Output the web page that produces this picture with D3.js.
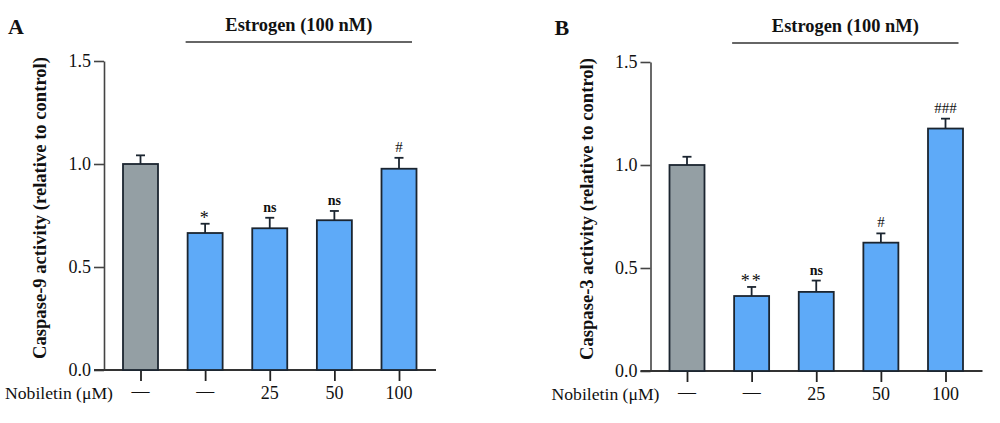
<!DOCTYPE html>
<html>
<head>
<meta charset="utf-8">
<script src="https://cdn.jsdelivr.net/npm/d3@7"></script>
<style>
  html, body { margin: 0; padding: 0; background: #fff; }
  svg { display: block; }
  text { font-family: "Liberation Serif", "DejaVu Serif", serif; fill: #111; }
</style>
</head>
<body>
<svg id="chart" width="1000" height="423"></svg>
<script>
// ---- data ----
const groups = ["Control", "Estrogen", "Estrogen + Nob 25", "Estrogen + Nob 50", "Estrogen + Nob 100"];
const doseLabels = ["—", "—", "25", "50", "100"];
const barColors = ["#949fa4", "#5eaaf8", "#5eaaf8", "#5eaaf8", "#5eaaf8"];

const cas9Mean = [1.00, 0.665, 0.688, 0.727, 0.977];
const cas9Err  = [0.042, 0.045, 0.051, 0.045, 0.053];
const cas9Sig  = ["", "*", "ns", "ns", "#"];

const cas3Mean = [1.00, 0.364, 0.384, 0.623, 1.177];
const cas3Err  = [0.040, 0.044, 0.055, 0.045, 0.048];
const cas3Sig  = ["", "**", "ns", "#", "###"];

const yTicks = [0, 0.5, 1.0, 1.5];
const yTickLabels = ["0.0", "0.5", "1.0", "1.5"];

const panels = [
  { letter: "A", title: "Caspase-9 activity (relative to control)", mean: cas9Mean, err: cas9Err, sig: cas9Sig, dx: 0, dy: 0 },
  { letter: "B", title: "Caspase-3 activity (relative to control)", mean: cas3Mean, err: cas3Err, sig: cas3Sig, dx: 546.5, dy: 1 }
];

const svg = d3.select("#chart");
const stroke = "#1b2530";

function fitWidth(sel, target) {
  const node = sel.node();
  const fs = parseFloat(sel.attr("font-size"));
  const w = node.getComputedTextLength();
  if (w > 0) sel.attr("font-size", (fs * target / w).toFixed(2));
}

panels.forEach(p => {
  const g = svg.append("g").attr("transform", `translate(${p.dx},${p.dy})`);

  const y = d3.scaleLinear().domain([0, 1.5]).range([370, 61]);
  const x = d3.scalePoint().domain(groups).range([140.5, 399]);
  const barW = 35;

  // y axis
  const yAxis = d3.axisLeft(y).tickValues(yTicks)
    .tickFormat((d, i) => yTickLabels[i]).tickSize(10).tickSizeOuter(0).tickPadding(3);
  const ya = g.append("g").attr("transform", "translate(104,0)").call(yAxis);
  ya.select(".domain").attr("stroke", "#444").attr("stroke-width", 1.6);
  ya.selectAll(".tick line").attr("stroke", "#444").attr("stroke-width", 1.6);
  ya.selectAll(".tick text").attr("font-size", 18).attr("font-family", "Liberation Serif").attr("fill", "#111");

  // x axis
  const xAxis = d3.axisBottom(x).tickSize(11).tickSizeOuter(0).tickFormat(() => "");
  const xa = g.append("g").attr("transform", "translate(0,370)").call(xAxis);
  xa.select(".domain").remove();
  xa.selectAll(".tick line").attr("stroke", "#222").attr("stroke-width", 1.8);
  g.append("line").attr("x1", 94).attr("x2", 436).attr("y1", y(0)).attr("y2", y(0))
    .attr("stroke", "#333").attr("stroke-width", 1.8);

  // dose labels
  g.selectAll("text.dose").data(doseLabels).join("text")
    .attr("class", "dose")
    .attr("x", (d, i) => x(groups[i]))
    .attr("y", d => d === "—" ? 397 : 399)
    .attr("text-anchor", "middle")
    .attr("font-size", 18)
    .text(d => d);

  const nob = g.append("text").attr("x", 113).attr("y", 399).attr("text-anchor", "end")
    .attr("font-size", 18).text("Nobiletin (μM)");
  fitWidth(nob, 108);

  // bars
  g.selectAll("rect.bar").data(p.mean).join("rect")
    .attr("class", "bar")
    .attr("x", (d, i) => x(groups[i]) - barW / 2)
    .attr("y", d => y(d))
    .attr("width", barW)
    .attr("height", d => y(0) - y(d))
    .attr("fill", (d, i) => barColors[i])
    .attr("stroke", stroke).attr("stroke-width", 1.8);

  // error bars
  const eb = g.selectAll("g.err").data(p.mean).join("g").attr("class", "err");
  eb.append("line")
    .attr("x1", (d, i) => x(groups[i])).attr("x2", (d, i) => x(groups[i]))
    .attr("y1", d => y(d)).attr("y2", (d, i) => y(d + p.err[i]))
    .attr("stroke", stroke).attr("stroke-width", 1.8);
  eb.append("line")
    .attr("x1", (d, i) => x(groups[i]) - 4.5).attr("x2", (d, i) => x(groups[i]) + 4.5)
    .attr("y1", (d, i) => y(d + p.err[i])).attr("y2", (d, i) => y(d + p.err[i]))
    .attr("stroke", stroke).attr("stroke-width", 1.8);

  // significance labels
  g.selectAll("text.sig").data(p.sig).join("text")
    .attr("class", "sig")
    .attr("x", (d, i) => x(groups[i]))
    .attr("y", (d, i) => y(p.mean[i] + p.err[i]) - (d.startsWith("*") ? 0 : 6))
    .attr("text-anchor", "middle")
    .attr("font-size", d => d.startsWith("*") ? 18 : (d === "ns" ? 14 : 15))
    .attr("font-weight", d => d === "ns" ? "bold" : "normal")
    .attr("letter-spacing", d => d.startsWith("*") ? 2 : 0)
    .attr("fill", "#111")
    .text(d => d);

  // Estrogen bracket
  g.append("line")
    .attr("x1", x(groups[1]) - 19.5).attr("x2", x(groups[4]) + 13)
    .attr("y1", 42).attr("y2", 42)
    .attr("stroke", "#333").attr("stroke-width", 1.4);
  const et = g.append("text")
    .attr("x", (x(groups[1]) - 19.5 + x(groups[4]) + 13) / 2)
    .attr("y", 31).attr("text-anchor", "middle")
    .attr("font-size", 17).attr("font-weight", "bold")
    .text("Estrogen (100 nM)");
  fitWidth(et, 147);

  // panel letter
  g.append("text").attr("x", 8).attr("y", 34)
    .attr("font-size", 22).attr("font-weight", "bold").text(p.letter);

  // y axis title
  const yt = g.append("text")
    .attr("transform", `translate(46,${208}) rotate(-90)`)
    .attr("text-anchor", "middle")
    .attr("font-size", 16).attr("font-weight", "bold")
    .text(p.title);
  fitWidth(yt, 302);
});
</script>
</body>
</html>
